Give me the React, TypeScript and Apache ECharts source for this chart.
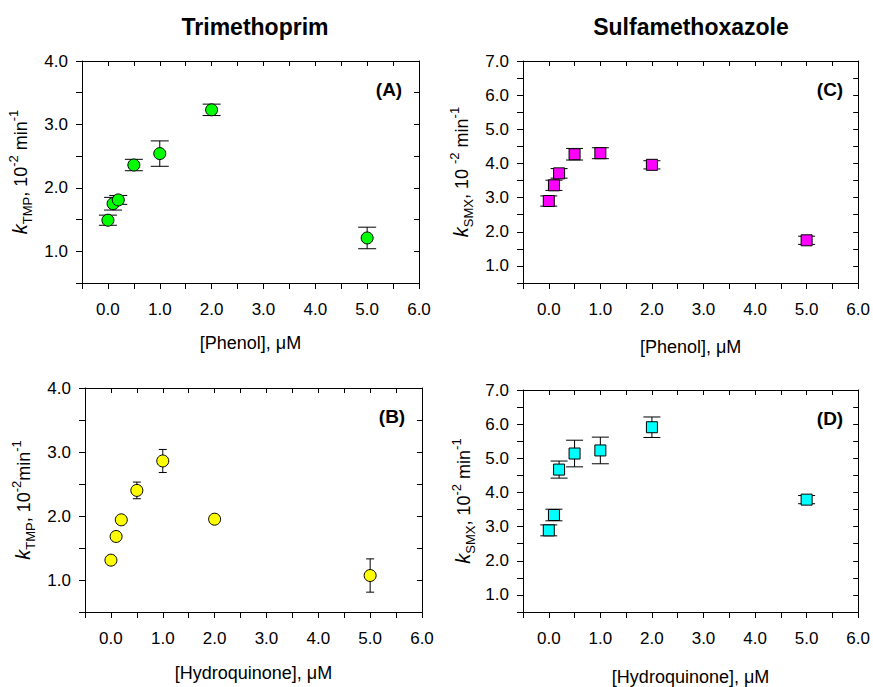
import React, { useEffect, useRef } from "react";
import * as echarts from "echarts";

const conc = [0, 0.1, 0.2, 0.5, 1.0, 2.0, 5.0];
const tmpPhenol = [1.49, 1.75, 1.81, 2.36, 2.54, 3.23, 1.21];
const tmpPhenolErr = [0.08, 0.1, 0.07, 0.09, 0.2, 0.09, 0.17];
const smxPhenol = [2.9, 3.36, 3.71, 4.27, 4.3, 3.96, 1.75];
const smxPhenolErr = [0.15, 0.15, 0.14, 0.17, 0.16, 0.12, 0.12];
const tmpHQ = [1.31, 1.68, 1.94, 2.4, 2.86, 1.95, 1.07];
const tmpHQErr = [0.04, 0.06, 0.03, 0.13, 0.18, 0.02, 0.26];
const smxHQ = [2.89, 3.34, 4.67, 5.14, 5.23, 5.91, 3.79];
const smxHQErr = [0.16, 0.17, 0.25, 0.39, 0.39, 0.3, 0.12];

const xTickLabels = ["0.0", "1.0", "2.0", "3.0", "4.0", "5.0", "6.0"];
const titles = ["Trimethoprim", "Sulfamethoxazole"];
const panelLabels = ["(A)", "(C)", "(B)", "(D)"];
const xNames = ["[Phenol], \u03bcM", "[Phenol], \u03bcM", "[Hydroquinone], \u03bcM", "[Hydroquinone], \u03bcM"];

const FONT = "'Liberation Sans', Arial, Helvetica, sans-serif";

type Panel = {
  grid: { left: number; top: number; width: number; height: number };
  yMax: number;
  values: number[];
  errs: number[];
  color: string;
  symbol: string;
  symbolSize: number;
  cap: number;
  yName: string;
  nameGapY: number;
  nameGapX: number;
  label: string;
  xName: string;
};

const panels: Panel[] = [
  {
    grid: { left: 82, top: 61, width: 337, height: 222 },
    yMax: 4,
    values: tmpPhenol,
    errs: tmpPhenolErr,
    color: "#00ff00",
    symbol: "circle",
    symbolSize: 12,
    cap: 9,
    yName: "{k|k}{sub|TMP}{n|, 10}{sup|-2}{n| min}{sup|-1}",
    nameGapY: 48,
    nameGapX: 51,
    label: panelLabels[0],
    xName: xNames[0],
  },
  {
    grid: { left: 523, top: 61, width: 337, height: 222 },
    yMax: 7,
    values: smxPhenol,
    errs: smxPhenolErr,
    color: "#ff00ff",
    symbol: "rect",
    symbolSize: 11,
    cap: 8.5,
    yName: "{k|k}{sub|SMX}{n|, 10 }{sup|-2}{n| min}{sup|-1}",
    nameGapY: 48,
    nameGapX: 55,
    label: panelLabels[1],
    xName: xNames[1],
  },
  {
    grid: { left: 85, top: 388, width: 337, height: 224 },
    yMax: 4,
    values: tmpHQ,
    errs: tmpHQErr,
    color: "#ffff00",
    symbol: "circle",
    symbolSize: 12,
    cap: 4,
    yName: "{k|k}{sub|TMP}{n|, 10}{sup|-2}{n|min}{sup|-1}",
    nameGapY: 48,
    nameGapX: 52,
    label: panelLabels[2],
    xName: xNames[2],
  },
  {
    grid: { left: 523, top: 390, width: 337, height: 223 },
    yMax: 7,
    values: smxHQ,
    errs: smxHQErr,
    color: "#00ffff",
    symbol: "rect",
    symbolSize: 11,
    cap: 8.5,
    yName: "{k|k}{sub|SMX}{n|, 10}{sup|-2}{n| min}{sup|-1}",
    nameGapY: 46,
    nameGapX: 56,
    label: panelLabels[3],
    xName: xNames[3],
  },
];

const richName = {
  k: { fontFamily: FONT, fontSize: 20, fontStyle: "italic", color: "#000", verticalAlign: "bottom", padding: [0, 0, 4, 0] },
  n: { fontFamily: FONT, fontSize: 18, color: "#000", verticalAlign: "bottom", padding: [0, 0, 4, 0] },
  sub: { fontFamily: FONT, fontSize: 13, color: "#000", verticalAlign: "bottom", padding: [0, 0, 0, 0] },
  sup: { fontFamily: FONT, fontSize: 13, color: "#000", verticalAlign: "bottom", padding: [0, 0, 14, 0] },
};

function buildOption() {
  const grids: any[] = [];
  const xAxes: any[] = [];
  const yAxes: any[] = [];
  const series: any[] = [];
  const graphics: any[] = [];
  const line = { show: true, lineStyle: { color: "#000", width: 1 } };

  panels.forEach((p, i) => {
    grids.push({ ...p.grid, containLabel: false });
    const xBase = {
      type: "value",
      gridIndex: i,
      min: -0.5,
      max: 6,
      interval: 0.5,
      splitLine: { show: false },
      axisLine: { ...line, onZero: false },
    };
    xAxes.push({
      ...xBase,
      position: "bottom",
      axisTick: { show: true, inside: false, length: 6, lineStyle: { color: "#000" } },
      axisLabel: {
        show: true,
        margin: 18,
        fontFamily: FONT,
        fontSize: 17,
        color: "#000",
        formatter: (v: number) => (Number.isInteger(v) && v >= 0 ? xTickLabels[v] : ""),
      },
      name: p.xName,
      nameLocation: "middle",
      nameGap: p.nameGapX,
      nameTextStyle: { fontFamily: FONT, fontSize: 18, color: "#000" },
    });
    xAxes.push({
      ...xBase,
      position: "top",
      axisTick: { show: true, inside: true, length: 5, lineStyle: { color: "#000" } },
      axisLabel: { show: false },
    });
    const yBase = {
      type: "value",
      gridIndex: i,
      min: 0.5,
      max: p.yMax,
      interval: 0.5,
      splitLine: { show: false },
      axisLine: { ...line, onZero: false },
    };
    yAxes.push({
      ...yBase,
      position: "left",
      axisTick: { show: true, inside: false, length: 6, lineStyle: { color: "#000" } },
      axisLabel: {
        show: true,
        margin: 14,
        fontFamily: FONT,
        fontSize: 17,
        color: "#000",
        formatter: (v: number) => (Number.isInteger(v) ? v.toFixed(1) : ""),
      },
      name: p.yName,
      nameLocation: "middle",
      nameRotate: 90,
      nameGap: p.nameGapY,
      nameTextStyle: { rich: richName },
    });
    yAxes.push({
      ...yBase,
      position: "right",
      axisTick: { show: true, inside: true, length: 5, lineStyle: { color: "#000" } },
      axisLabel: { show: false },
    });

    const errData = conc.map((c, j) => [c, p.values[j] - p.errs[j], p.values[j] + p.errs[j]]);
    const cap = p.cap;
    series.push({
      type: "custom",
      xAxisIndex: 2 * i,
      yAxisIndex: 2 * i,
      data: errData,
      z: 1,
      renderItem: (params: any, api: any) => {
        const x = api.value(0);
        const top = api.coord([x, api.value(2)]);
        const bot = api.coord([x, api.value(1)]);
        const st = { stroke: "#000", lineWidth: 1 };
        return {
          type: "group",
          children: [
            { type: "line", shape: { x1: top[0], y1: top[1], x2: bot[0], y2: bot[1] }, style: st },
            { type: "line", shape: { x1: top[0] - cap, y1: top[1], x2: top[0] + cap, y2: top[1] }, style: st },
            { type: "line", shape: { x1: bot[0] - cap, y1: bot[1], x2: bot[0] + cap, y2: bot[1] }, style: st },
          ],
        };
      },
    });
    series.push({
      type: "scatter",
      xAxisIndex: 2 * i,
      yAxisIndex: 2 * i,
      data: conc.map((c, j) => [c, p.values[j]]),
      symbol: p.symbol,
      symbolSize: p.symbolSize,
      z: 3,
      itemStyle: { color: p.color, borderColor: "#000", borderWidth: 1, opacity: 1 },
    });

    graphics.push({
      type: "text",
      x: p.grid.left + p.grid.width - 30,
      y: p.grid.top + 28,
      style: { text: p.label, font: `bold 19px ${FONT}`, fill: "#000", align: "center", verticalAlign: "middle" },
    });
  });

  graphics.push({
    type: "text",
    x: 255,
    y: 27,
    style: { text: titles[0], font: `bold 23px ${FONT}`, fill: "#000", align: "center", verticalAlign: "middle" },
  });
  graphics.push({
    type: "text",
    x: 691,
    y: 27,
    style: { text: titles[1], font: `bold 23px ${FONT}`, fill: "#000", align: "center", verticalAlign: "middle" },
  });

  return {
    animation: false,
    backgroundColor: "#fff",
    textStyle: { fontFamily: FONT },
    grid: grids,
    xAxis: xAxes,
    yAxis: yAxes,
    series,
    graphic: graphics,
  };
}

export default function App() {
  const ref = useRef<HTMLDivElement>(null);
  useEffect(() => {
    if (!ref.current) return;
    const chart = echarts.init(ref.current, null, { renderer: "svg" });
    chart.setOption(buildOption() as any);
    return () => chart.dispose();
  }, []);
  return <div ref={ref} style={{ position: "fixed", left: 0, top: 0, width: 873, height: 687 }} />;
}
